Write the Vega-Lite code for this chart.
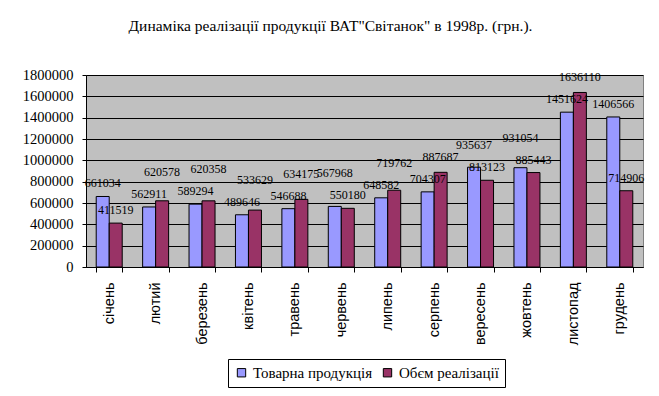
{
  "$schema": "https://vega.github.io/schema/vega-lite/v6.json",
  "width": 557,
  "height": 192,
  "autosize": {"type": "none"},
  "padding": {"left": 86, "top": 75, "right": 16, "bottom": 129},
  "background": "white",
  "title": {
    "text": "Динаміка реалізації продукції ВАТ\"Світанок\" в 1998р. (грн.).",
    "font": "Liberation Serif",
    "fontSize": 15.5,
    "fontWeight": "normal",
    "color": "black",
    "anchor": "middle",
    "dx": -34,
    "offset": 33
  },
  "data": {
    "values": [
      {"month": "січень", "series": "Товарна продукція", "value": 661034},
      {"month": "лютий", "series": "Товарна продукція", "value": 562911},
      {"month": "березень", "series": "Товарна продукція", "value": 589294},
      {"month": "квітень", "series": "Товарна продукція", "value": 489646},
      {"month": "травень", "series": "Товарна продукція", "value": 546688},
      {"month": "червень", "series": "Товарна продукція", "value": 567968},
      {"month": "липень", "series": "Товарна продукція", "value": 648582},
      {"month": "серпень", "series": "Товарна продукція", "value": 704307},
      {"month": "вересень", "series": "Товарна продукція", "value": 935637},
      {"month": "жовтень", "series": "Товарна продукція", "value": 931054},
      {"month": "листопад", "series": "Товарна продукція", "value": 1451624},
      {"month": "грудень", "series": "Товарна продукція", "value": 1406566},
      {"month": "січень", "series": "Обєм реалізації", "value": 411519},
      {"month": "лютий", "series": "Обєм реалізації", "value": 620578},
      {"month": "березень", "series": "Обєм реалізації", "value": 620358},
      {"month": "квітень", "series": "Обєм реалізації", "value": 533629},
      {"month": "травень", "series": "Обєм реалізації", "value": 634175},
      {"month": "червень", "series": "Обєм реалізації", "value": 550180},
      {"month": "липень", "series": "Обєм реалізації", "value": 719762},
      {"month": "серпень", "series": "Обєм реалізації", "value": 887687},
      {"month": "вересень", "series": "Обєм реалізації", "value": 813123},
      {"month": "жовтень", "series": "Обєм реалізації", "value": 885443},
      {"month": "листопад", "series": "Обєм реалізації", "value": 1636110},
      {"month": "грудень", "series": "Обєм реалізації", "value": 714906}
    ]
  },
  "transform": [
    {"joinaggregate": [{"op": "min", "field": "value", "as": "minv"}, {"op": "max", "field": "value", "as": "maxv"}], "groupby": ["month"]}
  ],
  "encoding": {
    "x": {
      "field": "month",
      "type": "nominal",
      "sort": ["січень", "лютий", "березень", "квітень", "травень", "червень", "липень", "серпень", "вересень", "жовтень", "листопад", "грудень"],
      "scale": {"paddingInner": 0.44, "paddingOuter": 0.22},
      "axis": {
        "title": null,
        "labelAngle": 270,
        "labelFont": "Liberation Sans",
        "labelFontSize": 14.5,
        "labelColor": "black",
        "labelPadding": 10,
        "labelOverlap": false,
        "tickBand": "extent",
        "tickColor": "black",
        "tickSize": 5,
        "domainColor": "black",
        "grid": false
      }
    },
    "xOffset": {
      "field": "series",
      "type": "nominal",
      "sort": ["Товарна продукція", "Обєм реалізації"],
      "scale": {"paddingInner": 0, "paddingOuter": 0}
    },
    "y": {
      "field": "value",
      "type": "quantitative",
      "scale": {"domain": [0, 1800000]},
      "axis": {
        "title": null,
        "values": [0, 200000, 400000, 600000, 800000, 1000000, 1200000, 1400000, 1600000, 1800000],
        "format": "d",
        "labelFont": "Liberation Serif",
        "labelFontSize": 14.5,
        "labelColor": "black",
        "labelPadding": 9,
        "labelOverlap": false,
        "tickColor": "black",
        "tickSize": 4,
        "domainColor": "black",
        "gridColor": "black",
        "gridOpacity": 1,
        "gridWidth": 1
      }
    }
  },
  "layer": [
    {
      "mark": {"type": "bar", "stroke": "black", "strokeWidth": 1},
      "encoding": {
        "color": {
          "field": "series",
          "type": "nominal",
          "sort": ["Товарна продукція", "Обєм реалізації"],
          "scale": {"domain": ["Товарна продукція", "Обєм реалізації"], "range": ["#9999FF", "#993366"]},
          "legend": {
            "title": null,
            "orient": "none",
            "legendX": 142,
            "legendY": 284,
            "direction": "horizontal",
            "strokeColor": "black",
            "padding": 6,
            "symbolType": "square",
            "symbolSize": 70,
            "symbolStrokeColor": "black",
            "symbolStrokeWidth": 1,
            "symbolOpacity": 1,
            "labelFont": "Liberation Serif",
            "labelFontSize": 15,
            "labelColor": "black",
            "columnPadding": 7,
            "labelOffset": 4
          }
        }
      }
    },
    {
      "transform": [{"filter": "datum.value == datum.minv || datum.maxv - datum.minv > 200000"}],
      "mark": {"type": "text", "font": "Liberation Serif", "fontSize": 12, "color": "black", "baseline": "middle", "dy": -13},
      "encoding": {
        "text": {"field": "value", "type": "quantitative", "format": "d"}
      }
    },
    {
      "transform": [{"filter": "datum.value == datum.maxv && datum.maxv - datum.minv <= 200000"}],
      "mark": {"type": "text", "font": "Liberation Serif", "fontSize": 12, "color": "black", "baseline": "middle", "dy": -35},
      "encoding": {
        "y": {
          "field": "minv",
          "type": "quantitative",
          "axis": {
            "title": null,
            "values": [0, 200000, 400000, 600000, 800000, 1000000, 1200000, 1400000, 1600000, 1800000],
            "format": "d",
            "labelFont": "Liberation Serif",
            "labelFontSize": 14.5,
            "labelColor": "black",
            "labelPadding": 9,
            "labelOverlap": false,
            "tickColor": "black",
            "tickSize": 4,
            "domainColor": "black",
            "gridColor": "black",
            "gridOpacity": 1,
            "gridWidth": 1
          }
        },
        "text": {"field": "value", "type": "quantitative", "format": "d"}
      }
    }
  ],
  "config": {
    "font": "Liberation Serif",
    "legend": {"labelFont": "Liberation Serif", "labelFontSize": 15, "labelColor": "black"},
    "view": {"fill": "#C0C0C0", "stroke": "#808080", "strokeWidth": 1}
  }
}
